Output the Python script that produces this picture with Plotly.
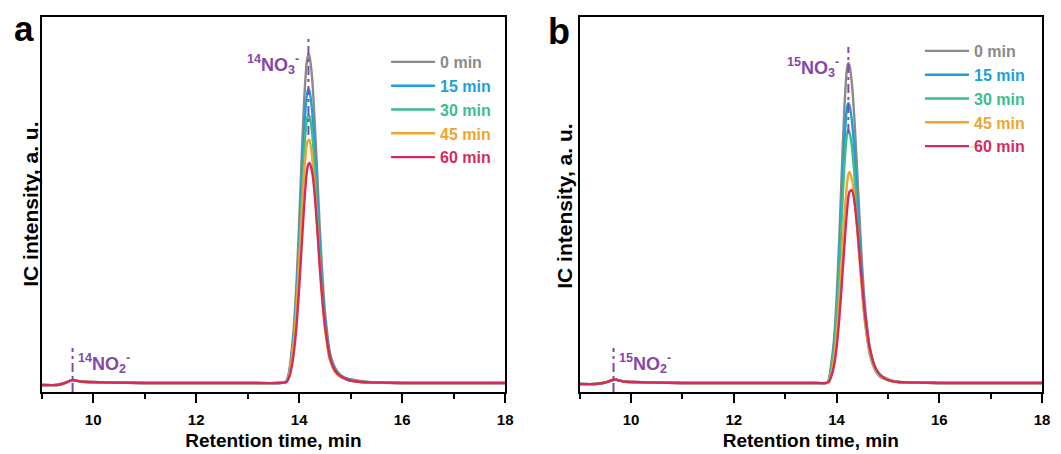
import plotly.graph_objects as go

W, H = 1061, 454

# ---------------- data ----------------
series_names = ["0 min", "15 min", "30 min", "45 min", "60 min"]
series_colors = ["#8a8a8a", "#1c9fdb", "#3dbd8b", "#f0a62e", "#d62a5c"]
label_color = "#8547a8"

# panel a (14N)
x_pre_a = [9.0, 9.3, 9.45, 9.6, 9.75, 9.9, 10.3, 11.0, 12.0, 13.0, 13.6]
base_pre_a = [-0.02, -0.02, 0.0, 0.03, 0.015, 0.01, 0.005, 0.0, 0.0, 0.0, 0.0]
x_peak_a = [13.75, 13.8, 13.85, 13.9, 13.95, 14.0, 14.05, 14.1, 14.15, 14.18, 14.2,
            14.25, 14.3, 14.35, 14.4, 14.45, 14.5, 14.6, 14.7, 14.8, 14.95, 15.2]
peak_a_0 = [0.02, 0.10, 0.30, 0.58, 1.02, 1.61, 2.27, 2.86, 3.22, 3.29, 3.27,
            3.06, 2.63, 2.11, 1.55, 1.09, 0.72, 0.30, 0.15, 0.08, 0.04, 0.02]
peak_a_15 = [0.01, 0.09, 0.26, 0.51, 0.91, 1.44, 2.03, 2.56, 2.88, 2.94, 2.92,
             2.73, 2.35, 1.88, 1.38, 0.97, 0.65, 0.26, 0.13, 0.07, 0.04, 0.01]
peak_a_30 = [0.01, 0.08, 0.24, 0.47, 0.84, 1.32, 1.86, 2.35, 2.63, 2.68, 2.67,
             2.51, 2.16, 1.73, 1.27, 0.89, 0.59, 0.24, 0.12, 0.07, 0.03, 0.01]
peak_a_45 = [0.01, 0.07, 0.22, 0.43, 0.76, 1.20, 1.68, 2.12, 2.39, 2.43, 2.43,
             2.27, 1.95, 1.56, 1.15, 0.81, 0.54, 0.22, 0.11, 0.06, 0.03, 0.01]
peak_a_60 = [0.01, 0.05, 0.15, 0.32, 0.58, 0.95, 1.38, 1.80, 2.12, 2.19, 2.20,
             2.12, 1.89, 1.55, 1.17, 0.84, 0.58, 0.25, 0.12, 0.07, 0.03, 0.01]

# panel b (15N)
x_pre_b = [9.0, 9.3, 9.5, 9.68, 9.85, 10.0, 10.4, 11.0, 12.0, 13.0, 13.6]
base_pre_b = [-0.01, -0.01, 0.005, 0.035, 0.015, 0.01, 0.005, 0.0, 0.0, 0.0, 0.0]
x_peak_b = [13.8, 13.85, 13.9, 13.95, 14.0, 14.05, 14.1, 14.15, 14.2, 14.23, 14.25,
            14.3, 14.35, 14.4, 14.45, 14.5, 14.55, 14.65, 14.75, 14.85, 15.0, 15.2]
peak_b_0 = [0.0, 0.03, 0.20, 0.43, 0.83, 1.41, 2.08, 2.72, 3.13, 3.20, 3.18,
            2.99, 2.62, 2.14, 1.63, 1.16, 0.80, 0.35, 0.16, 0.08, 0.04, 0.01]
peak_b_15 = [0.0, 0.03, 0.17, 0.38, 0.73, 1.23, 1.82, 2.38, 2.74, 2.80, 2.78,
             2.62, 2.30, 1.88, 1.43, 1.02, 0.70, 0.31, 0.14, 0.07, 0.03, 0.01]
peak_b_30 = [0.0, 0.03, 0.16, 0.34, 0.66, 1.11, 1.64, 2.15, 2.47, 2.53, 2.51,
             2.36, 2.07, 1.70, 1.29, 0.92, 0.63, 0.28, 0.13, 0.06, 0.03, 0.01]
peak_b_45 = [0.0, 0.02, 0.10, 0.24, 0.47, 0.80, 1.22, 1.64, 1.97, 2.09, 2.11,
             2.04, 1.84, 1.55, 1.21, 0.90, 0.64, 0.30, 0.14, 0.07, 0.03, 0.01]
peak_b_60 = [0.0, 0.01, 0.07, 0.17, 0.35, 0.62, 0.97, 1.35, 1.70, 1.86, 1.91,
             1.93, 1.81, 1.57, 1.27, 0.97, 0.70, 0.34, 0.16, 0.08, 0.03, 0.01]

x_post = [15.5, 16.0, 17.0, 18.0]
base_post = [0.005, 0.0, 0.0, 0.0]

# marker positions
no3_x_a, no3_y_a = 14.18, [2.48, 3.48]
no3_x_b, no3_y_b = 14.23, [2.50, 3.36]
no2_x_a, no2_x_b = 9.6, 9.66
no2_y = [-0.09, 0.35]

x_ticks = [10, 12, 14, 16, 18]
x_range = [9, 18]
y_range = [-0.09, 3.66]

peaks_a = [peak_a_0, peak_a_15, peak_a_30, peak_a_45, peak_a_60]
peaks_b = [peak_b_0, peak_b_15, peak_b_30, peak_b_45, peak_b_60]

FONT = "Arial, Liberation Sans, sans-serif"

fig = go.Figure()

for panel, (xpre, bpre, xpk, pks, xa, ya, lg) in enumerate([
        (x_pre_a, base_pre_a, x_peak_a, peaks_a, "x", "y", "legend"),
        (x_pre_b, base_pre_b, x_peak_b, peaks_b, "x2", "y2", "legend2")]):
    for name, col, pk in zip(series_names, series_colors, pks):
        fig.add_trace(go.Scatter(
            x=xpre + xpk + x_post, y=bpre + pk + base_post,
            mode="lines", line=dict(color=col, width=2.4, shape="spline", smoothing=0.6),
            name=f"<span style='color:{col}'><b>{name}</b></span>",
            xaxis=xa, yaxis=ya, legend=lg, showlegend=True))

# dashed marker lines
for xv, yv, xa, ya in [(no3_x_a, no3_y_a, "x", "y"), (no3_x_b, no3_y_b, "x2", "y2"),
                       (no2_x_a, no2_y, "x", "y"), (no2_x_b, no2_y, "x2", "y2")]:
    fig.add_trace(go.Scatter(x=[xv, xv], y=yv, mode="lines",
                             line=dict(color=label_color, width=2, dash="9px,4px,3px,4px"),
                             xaxis=xa, yaxis=ya, showlegend=False, hoverinfo="skip"))

ydom = [1 - 392 / H, 1 - 17 / H]
xaxis_common = dict(range=x_range, tickvals=x_ticks, ticks="outside", ticklen=9, tickwidth=1.6,
                    tickcolor="black", showline=True, linecolor="black", linewidth=1.6,
                    mirror=True, showgrid=False, zeroline=False,
                    minor=dict(dtick=1, tick0=9, ticks="outside", ticklen=5, tickwidth=1.6,
                               tickcolor="black", showgrid=False),
                    tickfont=dict(family=FONT, size=15, color="black", weight="bold"),
                    ticklabelstandoff=4,
                    title=dict(text="<b>Retention time, min</b>", standoff=7,
                               font=dict(family=FONT, size=19, color="black")))
yaxis_common = dict(range=y_range, showticklabels=False, ticks="", showline=True,
                    linecolor="black", linewidth=1.6, mirror=True, showgrid=False,
                    zeroline=False)

fig.update_layout(
    width=W, height=H, margin=dict(l=0, r=0, t=0, b=0),
    paper_bgcolor="white", plot_bgcolor="white",
    font=dict(family=FONT, color="black"),
    xaxis=dict(domain=[42 / W, 509 / W], anchor="y", **xaxis_common),
    yaxis=dict(domain=ydom, anchor="x", **yaxis_common),
    xaxis2=dict(domain=[584 / W, 1050 / W], anchor="y2", **xaxis_common),
    yaxis2=dict(domain=ydom, anchor="x2", **yaxis_common),
    legend=dict(x=389 / W, y=1 - 45 / H, xanchor="left", yanchor="top",
                bgcolor="rgba(0,0,0,0)", itemwidth=44,
                font=dict(family=FONT, size=16), tracegroupgap=0),
    legend2=dict(x=927 / W, y=1 - 34 / H, xanchor="left", yanchor="top",
                 bgcolor="rgba(0,0,0,0)", itemwidth=44,
                 font=dict(family=FONT, size=16), tracegroupgap=0),
    showlegend=True,
)

ann_font = dict(family=FONT, size=18, color=label_color)
ytitle_font = dict(family=FONT, size=21, color="black")
annotations = [
    dict(text="<b><sup>14</sup>NO<sub>3</sub><sup>-</sup></b>", x=no3_x_a, y=3.18, xref="x", yref="y",
         xanchor="right", yanchor="middle", xshift=-7, showarrow=False, font=ann_font),
    dict(text="<b><sup>15</sup>NO<sub>3</sub><sup>-</sup></b>", x=no3_x_b, y=3.15, xref="x2", yref="y2",
         xanchor="right", yanchor="middle", xshift=-7, showarrow=False, font=ann_font),
    dict(text="<b><sup>14</sup>NO<sub>2</sub><sup>-</sup></b>", x=no2_x_a, y=0.2, xref="x", yref="y",
         xanchor="left", yanchor="middle", xshift=3, showarrow=False, font=ann_font),
    dict(text="<b><sup>15</sup>NO<sub>2</sub><sup>-</sup></b>", x=no2_x_b, y=0.2, xref="x2", yref="y2",
         xanchor="left", yanchor="middle", xshift=3, showarrow=False, font=ann_font),
    dict(text="<b>IC intensity, a. u.</b>", x=31 / W, y=1 - 204 / H, xref="paper", yref="paper",
         xanchor="center", yanchor="middle", textangle=-90, showarrow=False, font=ytitle_font),
    dict(text="<b>IC intensity, a. u.</b>", x=568 / W, y=1 - 206 / H, xref="paper", yref="paper",
         xanchor="center", yanchor="middle", textangle=-90, showarrow=False, font=ytitle_font),
    dict(text="<b>a</b>", x=24 / W, y=1 - 28 / H, xref="paper", yref="paper",
         xanchor="center", yanchor="middle", showarrow=False,
         font=dict(family=FONT, size=35, color="black")),
    dict(text="<b>b</b>", x=563 / W, y=1 - 32 / H, xref="paper", yref="paper",
         xanchor="center", yanchor="middle", showarrow=False,
         font=dict(family=FONT, size=36, color="black")),
]
fig.update_layout(annotations=annotations)

fig.write_html("out.html")
